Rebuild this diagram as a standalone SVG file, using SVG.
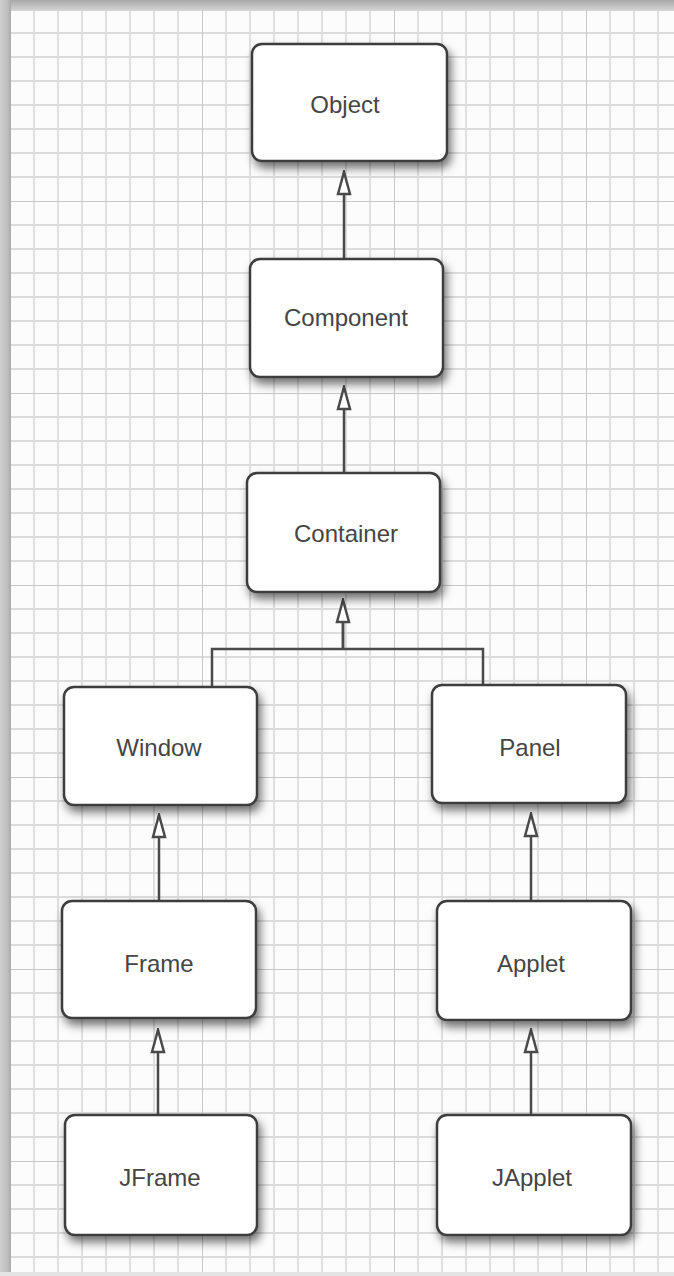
<svg xmlns="http://www.w3.org/2000/svg" width="674" height="1276" viewBox="0 0 674 1276">
<defs>
<style>
.box{fill:#ffffff;stroke:#3c3c3c;stroke-width:2.5;filter:url(#sh)}
.lbl{font-family:"Liberation Sans",Arial,sans-serif;font-size:24px;fill:#454545;text-anchor:middle;dominant-baseline:central}
.con{fill:none;stroke:#4a4a4a;stroke-width:2.5}
.minor{stroke:#dcdcdc;stroke-width:1.8}
.major{stroke:#c8c8c8;stroke-width:2}
</style>
<filter id="sh" x="-20%" y="-20%" width="140%" height="150%">
<feDropShadow dx="3" dy="6" stdDeviation="5" flood-color="#000" flood-opacity="0.55"/>
</filter>
<marker id="tri" markerUnits="userSpaceOnUse" markerWidth="26" markerHeight="16" viewBox="-2 -2 26 16" refX="0" refY="6" orient="auto">
<path d="M0,0 L22,6 L0,12 Z" fill="#fff" stroke="#4a4a4a" stroke-width="2.5" stroke-linejoin="miter"/>
</marker>
<pattern id="grid" patternUnits="userSpaceOnUse" x="10" y="9" width="192" height="192">
<rect width="192" height="192" fill="#fcfcfc"/>
<path class="minor" d="M24,0V192M48,0V192M72,0V192M96,0V192M120,0V192M144,0V192M168,0V192M0,24H192M0,48H192M0,72H192M0,96H192M0,120H192M0,144H192M0,168H192"/>
<path class="major" d="M0,0V192M0,0H192"/>
</pattern>
<linearGradient id="topg" x1="0" y1="0" x2="0" y2="1">
<stop offset="0" stop-color="#a8a8a8"/>
<stop offset="1" stop-color="#d6d6d6"/>
</linearGradient>
<linearGradient id="leftg" x1="0" y1="0" x2="1" y2="0">
<stop offset="0" stop-color="#d0d0d0"/>
<stop offset="0.7" stop-color="#bdbdbd"/>
<stop offset="1" stop-color="#a9a9a9"/>
</linearGradient>
</defs>
<rect x="0" y="0" width="674" height="1276" fill="url(#grid)"/>
<rect x="0" y="0" width="674" height="11" fill="url(#topg)"/>
<rect x="0" y="0" width="11" height="1276" fill="url(#leftg)"/>
<rect x="0" y="1272" width="674" height="4" fill="#e4e4e4"/>

<g id="connectors">
<path class="con" d="M344,259V194" marker-end="url(#tri)"/>
<path class="con" d="M344,473V409" marker-end="url(#tri)"/>
<path class="con" d="M212,687V649H483V685M343,649V622"/>
<path class="con" d="M343,649V622" marker-end="url(#tri)"/>
<path class="con" d="M159,901V837" marker-end="url(#tri)"/>
<path class="con" d="M531,901V836" marker-end="url(#tri)"/>
<path class="con" d="M158,1115V1052" marker-end="url(#tri)"/>
<path class="con" d="M531,1115V1052" marker-end="url(#tri)"/>
</g>

<g id="object"><rect class="box" x="252" y="44" width="195" height="117" rx="10"/><text class="lbl" x="345" y="104">Object</text></g>
<g id="component"><rect class="box" x="250" y="259" width="193" height="118" rx="10"/><text class="lbl" x="346" y="317">Component</text></g>
<g id="container"><rect class="box" x="247" y="473" width="193" height="119" rx="10"/><text class="lbl" x="346" y="533">Container</text></g>
<g id="window"><rect class="box" x="64" y="687" width="193" height="118" rx="10"/><text class="lbl" x="159" y="747">Window</text></g>
<g id="panel"><rect class="box" x="432" y="685" width="194" height="118" rx="10"/><text class="lbl" x="530" y="747">Panel</text></g>
<g id="frame"><rect class="box" x="62" y="901" width="194" height="117" rx="10"/><text class="lbl" x="159" y="963">Frame</text></g>
<g id="applet"><rect class="box" x="437" y="901" width="194" height="119" rx="10"/><text class="lbl" x="531" y="963">Applet</text></g>
<g id="jframe"><rect class="box" x="65" y="1115" width="192" height="120" rx="10"/><text class="lbl" x="160" y="1177">JFrame</text></g>
<g id="japplet"><rect class="box" x="437" y="1115" width="194" height="120" rx="10"/><text class="lbl" x="532" y="1177">JApplet</text></g>
</svg>
